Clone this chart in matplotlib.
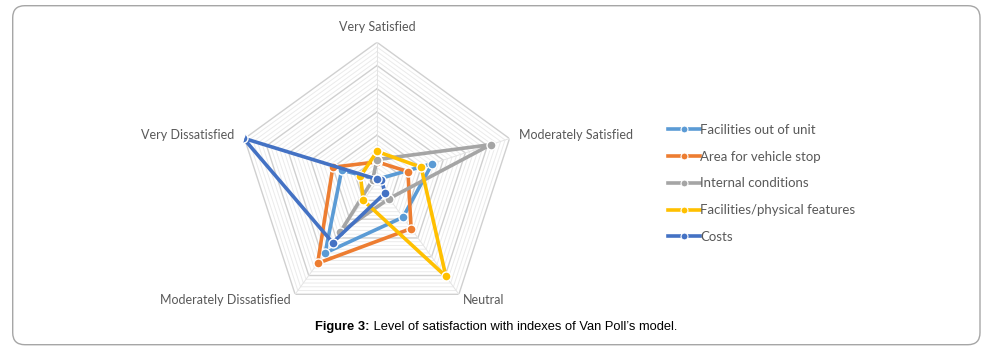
import numpy as np
import matplotlib
matplotlib.use("Agg")
import matplotlib.pyplot as plt
from matplotlib.patches import FancyBboxPatch
from matplotlib.lines import Line2D

categories = ["Very Satisfied", "Moderately Satisfied", "Neutral",
              "Moderately Dissatisfied", "Very Dissatisfied"]
series_names = ["Facilities out of unit", "Area for vehicle stop",
                "Internal conditions", "Facilities/physical features", "Costs"]
facilities_out = [1, 25, 19, 38, 16]
vehicle_stop = [8.5, 14, 25, 43.5, 20]
internal = [9.5, 51.5, 9, 27, 2]
physical = [13, 20, 50.5, 10, 7.5]
costs = [1, 2, 6, 32.5, 60.5]
series_values = [facilities_out, vehicle_stop, internal, physical, costs]
colors = ["#5B9BD5", "#ED7D31", "#A5A5A5", "#FFC000", "#4472C4"]
r_max = 60
major_step = 10
minor_step = 2
caption_bold = "Figure 3:"
caption_rest = " Level of satisfaction with indexes of Van Poll\u2019s model."

W, H = 1006, 353
fig = plt.figure(figsize=(W / 100, H / 100), dpi=100)

# border
border = FancyBboxPatch((12.7 / W, 1 - 344.7 / H), (980 - 12.7) / W, (344.7 - 5.7) / H,
                        boxstyle="round,pad=0,rounding_size=0.012",
                        transform=fig.transFigure, fill=False,
                        edgecolor="#A6A6A6", linewidth=1.0, mutation_aspect=W / H)
fig.patches.append(border)

cx, cy, R = 377, 181.6, 139.3
ax = fig.add_axes([(cx - R) / W, (H - cy - R) / H, 2 * R / W, 2 * R / H], projection="polar")
ax.set_theta_zero_location("N")
ax.set_theta_direction(-1)
ax.set_ylim(0, r_max)
ax.grid(False)
ax.set_xticks([])
ax.set_yticks([])
ax.spines["polar"].set_visible(False)
ax.patch.set_alpha(0)

n = len(categories)
theta = np.arange(n) * 2 * np.pi / n
theta_closed = np.append(theta, theta[0])

# grid pentagons
for lvl in np.arange(minor_step, r_max + 0.01, minor_step):
    if abs(lvl % major_step) < 1e-6:
        ax.plot(theta_closed, [lvl] * (n + 1), color="#D0D0D0", lw=1.0, zorder=1)
    else:
        ax.plot(theta_closed, [lvl] * (n + 1), color="#EBEBEB", lw=0.7, zorder=1)
for t in theta:
    ax.plot([t, t], [0, r_max], color="#E4E4E4", lw=0.7, zorder=1)

for name, vals, c in zip(series_names, series_values, colors):
    v = np.append(vals, vals[0])
    ax.plot(theta_closed, v, color=c, lw=2.6, marker="o", markersize=6.5,
            markerfacecolor=c, markeredgecolor="white", markeredgewidth=1.0,
            zorder=3, label=name, solid_joinstyle="round")

label_color = "#595959"
font = "Lato"
lab_kw = dict(color=label_color, fontsize=9, family=font, clip_on=False)
ax.text(theta[0], 66.5, categories[0], ha="center", va="center", **lab_kw)
ax.text(theta[1], 64.5, categories[1], ha="left", va="center", **lab_kw)
ax.text(theta[2], 63.2, categories[2], ha="left", va="center", **lab_kw)
ax.text(theta[3], 63.2, categories[3], ha="right", va="center", **lab_kw)
ax.text(theta[4], 64.5, categories[4], ha="right", va="center", **lab_kw)

handles = [Line2D([0], [0], color=c, lw=2.6, marker="o", markersize=5,
                  markerfacecolor=c, markeredgecolor="white", markeredgewidth=0.8)
           for c in colors]
leg = fig.legend(handles, series_names, loc="upper left",
                 bbox_to_anchor=(656 / W, 1 - 112 / H), frameon=False,
                 prop={"family": font, "size": 9.5}, labelcolor=label_color,
                 handlelength=2.4, handletextpad=0.05, labelspacing=1.12)

t1 = fig.text(315 / W, 1 - 327 / H, caption_bold, ha="left", va="center",
              fontsize=9.3, fontweight="bold", family="Liberation Sans", color="black")
ann = plt.annotate(caption_rest, xy=(1, 0.5), xycoords=t1, ha="left", va="center",
                   fontsize=9.3, family="Liberation Sans", color="black",
                   annotation_clip=False)

fig.savefig("out.png", dpi=100)
